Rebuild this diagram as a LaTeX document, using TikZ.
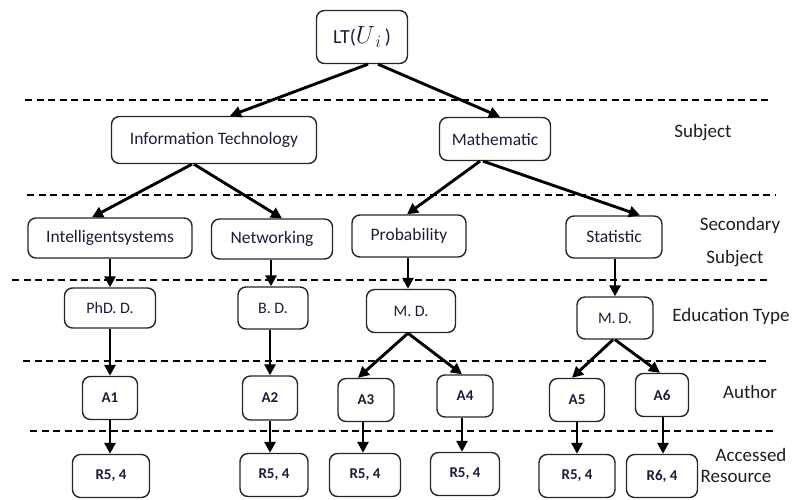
\documentclass[tikz,border=0pt]{standalone}
\usepackage{fontspec}
\setmainfont{Carlito}
\usetikzlibrary{arrows.meta}
\definecolor{ink}{RGB}{28,28,58}
\definecolor{lbl}{RGB}{30,30,30}
\tikzset{
  box/.style={draw=black!85, line width=1.4pt, rounded corners=8pt, inner sep=0pt,
              text=ink, align=center},
  arr/.style={line width=2.9pt, -{Triangle[length=11pt,width=11pt]}},
  sep/.style={line width=2.3pt, dash pattern=on 7pt off 4.5pt},
  lab/.style={text=lbl, font=\fontsize{19}{22}\selectfont, inner sep=0pt},
  mid/.style={font=\fontsize{17.5}{20}\selectfont},
  sml/.style={font=\fontsize{16}{19}\selectfont},
  bld/.style={font=\fontsize{15}{18}\selectfont\bfseries},
}
\begin{document}
\begin{tikzpicture}[x=1pt,y=-1pt]
\useasboundingbox (0,0) rectangle (810,499);

% separators between the levels
\draw[sep] (25,100) -- (770,100);
\draw[sep] (27,195) -- (775,195);
\draw[sep] (12,280) -- (770,280);
\draw[sep] (23,361) -- (770,361);
\draw[sep] (30,431) -- (775,431);

% root
\node[box, minimum width=91pt, minimum height=53pt, font=\fontsize{20}{24}\selectfont]
  (lt) at (362,37) {LT(\raisebox{0pt}{\fontsize{23}{24}\selectfont$U_{\,i}$}\,)};

% subjects
\node[box, mid, minimum width=205pt, minimum height=47pt] (it) at (214,140) {Information Technology};
\node[box, mid, minimum width=111pt, minimum height=43pt] (ma) at (495,139) {Mathematic};

% secondary subjects
\node[box, mid, minimum width=164pt, minimum height=40pt] (is) at (110,238) {Intelligentsystems};
\node[box, mid, minimum width=121pt, minimum height=40pt] (nw) at (272,239) {Networking};
\node[box, mid, minimum width=114pt, minimum height=42pt] (pr) at (409,236) {Probability};
\node[box, mid, minimum width=96pt, minimum height=42pt] (st) at (614,237) {Statistic};

% education types
\node[box, sml, minimum width=91pt, minimum height=40pt] (phd) at (110,308) {PhD. D.};
\node[box, sml, minimum width=70pt, minimum height=42pt] (bd) at (273,308) {B. D.};
\node[box, sml, minimum width=89pt, minimum height=43pt] (md1) at (411,311) {M. D.};
\node[box, sml, minimum width=76pt, minimum height=42pt] (md2) at (615,318) {M.\,D.};

% authors
\node[box, bld, minimum width=55pt, minimum height=43pt] (a1) at (110,398) {A1};
\node[box, bld, minimum width=55pt, minimum height=44pt] (a2) at (270,398) {A2};
\node[box, bld, minimum width=56pt, minimum height=43pt] (a3) at (366,400) {A3};
\node[box, bld, minimum width=56pt, minimum height=42pt] (a4) at (465,396) {A4};
\node[box, bld, minimum width=55pt, minimum height=43pt] (a5) at (577,400) {A5};
\node[box, bld, minimum width=53pt, minimum height=43pt] (a6) at (662,395) {A6};

% accessed resources
\node[box, bld, minimum width=77pt, minimum height=43pt] (r1) at (111,476) {R5, 4};
\node[box, bld, minimum width=68pt, minimum height=43pt] (r2) at (274,475) {R5, 4};
\node[box, bld, minimum width=71pt, minimum height=43pt] (r3) at (365,475) {R5, 4};
\node[box, bld, minimum width=69pt, minimum height=43pt] (r4) at (465,474) {R5, 4};
\node[box, bld, minimum width=76pt, minimum height=43pt] (r5) at (577,476) {R5, 4};
\node[box, bld, minimum width=71pt, minimum height=43pt] (r6) at (662,476) {R6, 4};

% level labels
\node[lab] (lsub) at (703,133) {Subject};
\node[lab] (lsec1) at (740,225) {Secondary};
\node[lab] (lsec2) at (735,259) {Subject};
\node[lab] (ledu) at (731,316) {Education Type};
\node[lab] (laut) at (750,392) {Author};
\node[lab] (lacc1) at (751,455) {Accessed};
\node[lab] (lacc2) at (736,476) {Resource};

% root to subjects
\draw[arr] ([xshift=6pt]lt.south) -- ([xshift=16pt]it.north);
\draw[arr] ([xshift=16pt]lt.south) -- ([xshift=5pt]ma.north);

% subjects to secondary subjects
\draw[arr] ([xshift=-22pt]it.south) -- ([xshift=-18pt]is.north);
\draw[arr] ([xshift=-20pt]it.south) -- ([xshift=10pt]nw.north);
\draw[arr] ([xshift=-15pt]ma.south) -- ([xshift=-2pt]pr.north);
\draw[arr] ([xshift=-12pt]ma.south) -- ([xshift=26pt]st.north);

% secondary subjects to education types
\draw[arr] (is.south) -- (is.south |- phd.north);
\draw[arr] ([xshift=-1pt]nw.south) -- ([xshift=-1pt]nw.south |- bd.north);
\draw[arr] ([xshift=-1pt]pr.south) -- ([xshift=-1pt]pr.south |- md1.north);
\draw[arr] ([xshift=1pt]st.south) -- ([xshift=1pt]st.south |- md2.north);

% education types to authors
\draw[arr] (phd.south) -- (phd.south |- a1.north);
\draw[arr] ([xshift=-3pt]bd.south) -- ([xshift=-3pt]bd.south |- a2.north);
\draw[arr] ([xshift=-3pt]md1.south) -- ([xshift=-8pt]a3.north);
\draw[arr] ([xshift=-3pt]md1.south) -- ([xshift=-3pt]a4.north);
\draw[arr] ([xshift=-2pt]md2.south) -- ([xshift=-5pt]a5.north);
\draw[arr] ([xshift=0pt]md2.south) -- ([xshift=-2pt]a6.north);

% authors to resources
\draw[arr] (a1.south) -- (a1.south |- r1.north);
\draw[arr] (a2.south) -- (a2.south |- r2.north);
\draw[arr] ([xshift=-3pt]a3.south) -- ([xshift=-3pt]a3.south |- r3.north);
\draw[arr] ([xshift=-3pt]a4.south) -- ([xshift=-3pt]a4.south |- r4.north);
\draw[arr] (a5.south) -- (a5.south |- r5.north);
\draw[arr] ([xshift=1pt]a6.south) -- ([xshift=1pt]a6.south |- r6.north);
\end{tikzpicture}
\end{document}
